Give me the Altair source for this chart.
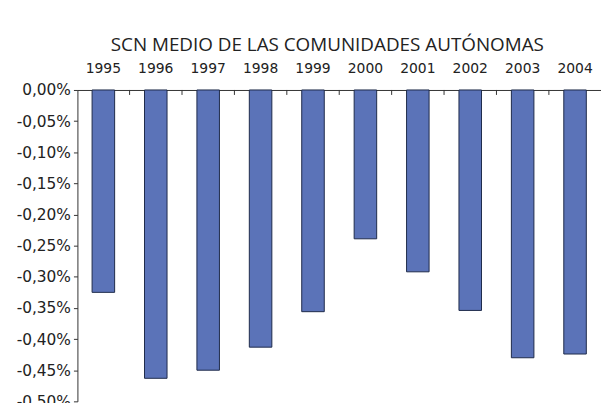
import altair as alt
import pandas as pd

years = ["1995", "1996", "1997", "1998", "1999", "2000", "2001", "2002", "2003", "2004"]
values = [-0.325, -0.463, -0.450, -0.413, -0.356, -0.239, -0.292, -0.354, -0.430, -0.424]
y_ticks = [0.0, -0.05, -0.10, -0.15, -0.20, -0.25, -0.30, -0.35, -0.40, -0.45, -0.50]

df = pd.DataFrame({"year": years, "value": values})

FONT = "DejaVu Sans"
lbl = "replace(replace(format(datum.value, '.2f'), '.', ','), '\u2212', '-') + '%'"

W = 528
STEP = W / len(years)

x_enc = alt.X("year:N", sort=years,
              scale=alt.Scale(paddingInner=0.57, paddingOuter=0.28),
              axis=alt.Axis(orient="top", title=None, labelAngle=0, ticks=False,
                            domainColor="#333", labelFont=FONT, labelFontSize=14,
                            labelColor="#222", labelPadding=15))

bars = alt.Chart(df).mark_bar(color="#5b73b8", stroke="#1e2a4a", strokeWidth=1).encode(
    x=x_enc,
    y=alt.Y("value:Q", scale=alt.Scale(domain=[-0.5, 0], nice=False),
            axis=alt.Axis(title=None, values=y_ticks, labelExpr=lbl, labelFont=FONT,
                          labelFontSize=15.5, labelColor="#222", domainColor="#333",
                          tickColor="#333", tickSize=4, grid=False, labelPadding=3)),
)

ticks = alt.Chart(pd.DataFrame({"year": years[1:]})).mark_rule(
    color="#333", xOffset=-STEP / 2).encode(
    x=alt.X("year:N", sort=years),
    y=alt.value(0),
    y2=alt.value(5),
)

chart = alt.layer(bars, ticks).properties(
    width=W, height=314,
    title=alt.TitleParams("SCN MEDIO DE LAS COMUNIDADES AUTÓNOMAS", font="Open Sans", fontSize=19,
                          fontWeight="normal", color="#222", dx=-12, offset=6),
    autosize=alt.AutoSizeParams(type="none"),
    padding={"left": 70, "top": 81, "right": 0, "bottom": 0},
).configure_view(stroke=None)

chart.save("out.html", embed_options={"renderer": "svg", "actions": False})
